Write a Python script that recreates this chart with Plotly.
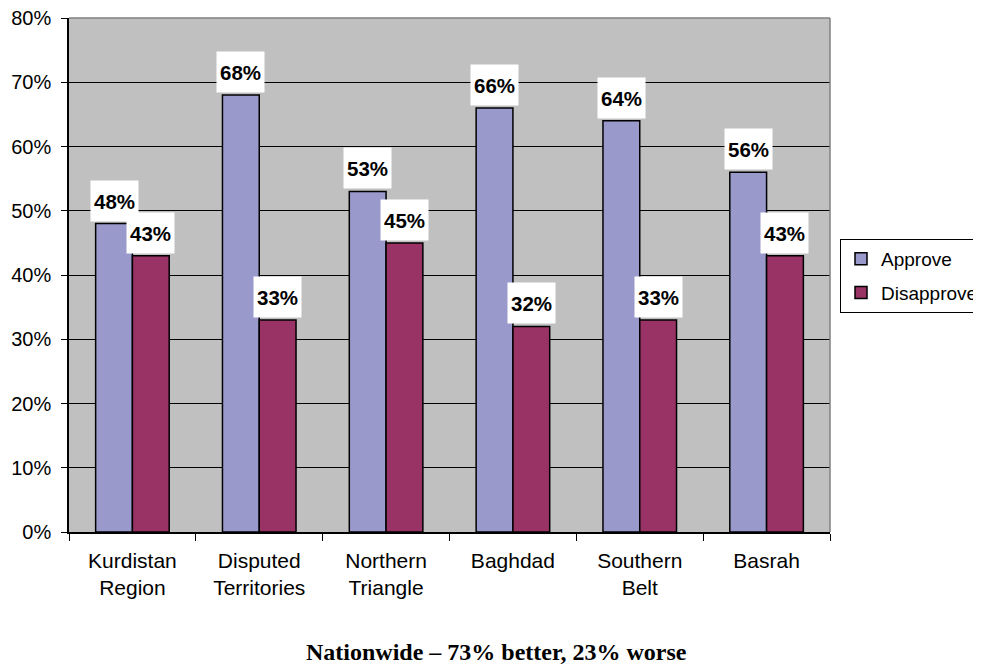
import plotly.graph_objects as go

categories = ["Kurdistan<br>Region", "Disputed<br>Territories", "Northern<br>Triangle",
              "Baghdad", "Southern<br>Belt", "Basrah"]
approve = [48, 68, 53, 66, 64, 56]
disapprove = [43, 33, 45, 32, 33, 43]
y_ticks = [0, 10, 20, 30, 40, 50, 60, 70, 80]
y_tick_labels = [f"{v}%" for v in y_ticks]
footer = "Nationwide \u2013 73% better, 23% worse"

# page offset of the figure (body margin)
OFF = 8
W, H = 981 - OFF, 664 - OFF
PL, PR, PT, PB = 69 - OFF, 830 - OFF, 18 - OFF, 532 - OFF  # plot area in figure px
PW, PH = PR - PL, PB - PT

BARGAP = 0.42
half = (1 - BARGAP) / 2

fig = go.Figure()
fig.add_trace(go.Bar(name="Approve", x=categories, y=approve,
                     marker=dict(color="#9999CC", line=dict(color="black", width=1.5)),
                     legendgroup="a"))
fig.add_trace(go.Bar(name="Disapprove", x=categories, y=disapprove,
                     marker=dict(color="#993366", line=dict(color="black", width=1.5)),
                     legendgroup="d"))

annotations = []
for series, off in ((approve, -half / 2), (disapprove, half / 2)):
    for i, v in enumerate(series):
        annotations.append(dict(x=i + off, y=v, xref="x", yref="y", text=f"<b>{v}%</b>",
                                showarrow=False, yanchor="bottom", yshift=2,
                                bgcolor="white", width=45, height=38,
                                font=dict(family="Liberation Sans, Arial", size=20.5, color="black")))

annotations.append(dict(x=(496 - OFF - PL) / PW, y=(PB - (652 - OFF)) / PH,
                        xref="paper", yref="paper",
                        text=f"<b>{footer}</b>", showarrow=False, yanchor="middle", xanchor="center",
                        font=dict(family="Liberation Serif, Times New Roman", size=24, color="black")))

fig.update_layout(
    width=W, height=H,
    margin=dict(l=PL, r=W - PR, t=PT, b=H - PB, pad=0, autoexpand=False),
    paper_bgcolor="white", plot_bgcolor="#C0C0C0",
    barmode="group", bargap=BARGAP, bargroupgap=0,
    font=dict(family="Liberation Sans, Arial", size=20, color="black"),
    showlegend=True,
    legend=dict(x=(840 - OFF) / W, y=1 - (239 - OFF) / H, xref="container", yref="container",
                xanchor="left", yanchor="top", itemwidth=30,
                bgcolor="white", bordercolor="black", borderwidth=1,
                font=dict(family="Liberation Sans, Arial", size=19, color="black"),
                traceorder="grouped", tracegroupgap=6),
    annotations=annotations,
    shapes=[
        dict(type="line", xref="paper", yref="paper", x0=0, x1=1, y0=1, y1=1,
             line=dict(color="#808080", width=1.5), layer="above"),
        dict(type="line", xref="paper", yref="paper", x0=1, x1=1, y0=0, y1=1,
             line=dict(color="#808080", width=1.5), layer="above"),
    ],
)

fig.update_xaxes(showgrid=False, showline=True, linecolor="black", linewidth=1.5,
                 ticks="outside", tickson="boundaries", ticklen=7, tickcolor="black",
                 tickfont=dict(size=21), ticklabelstandoff=9)
fig.update_yaxes(range=[0, 80], tickvals=y_ticks, ticktext=y_tick_labels,
                 showgrid=True, gridcolor="black", gridwidth=1,
                 showline=True, linecolor="black", linewidth=1.5, zeroline=False,
                 ticks="outside", ticklen=6, tickcolor="black", ticklabeloverflow="allow",
                 tickfont=dict(size=20), ticklabelstandoff=6)

fig.write_html("out.html")
